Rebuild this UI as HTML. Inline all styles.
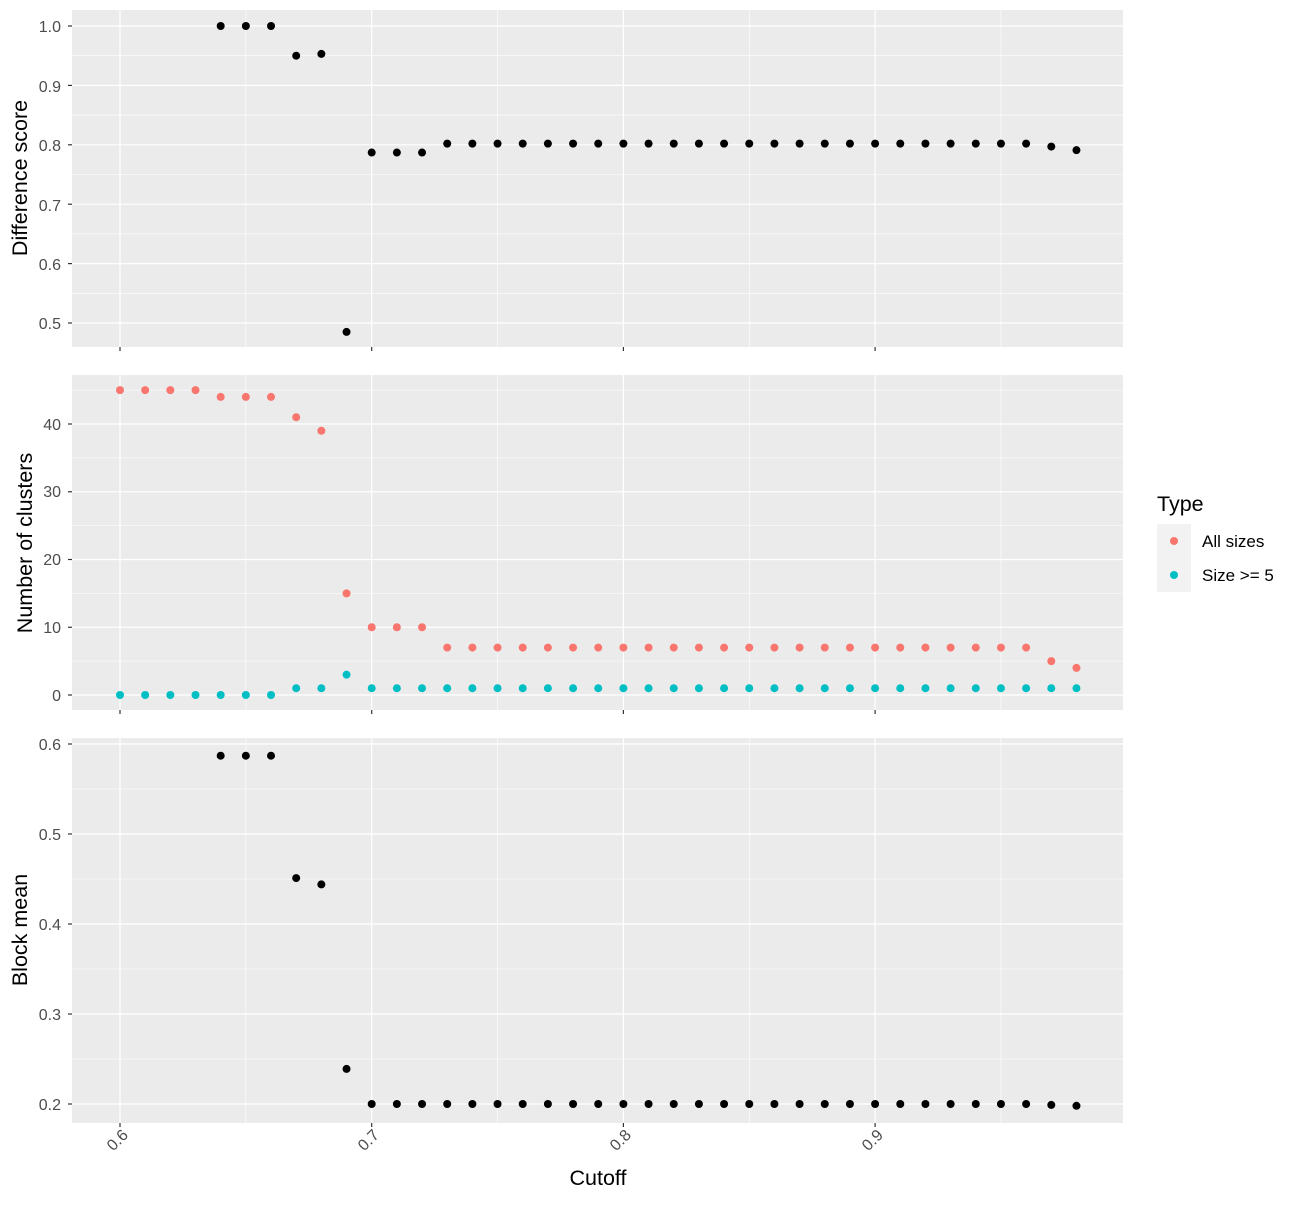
<!DOCTYPE html><html><head><style>body{margin:0;background:#fff}svg{font-family:"Liberation Sans",sans-serif}</style></head><body>
<svg id="s" width="1300" height="1200" xmlns="http://www.w3.org/2000/svg">
<g id="g"></g>
<g font-size="16" fill="#4d4d4d" text-anchor="end">
<text x="61" y="32">1.0</text><text x="61" y="92">0.9</text><text x="61" y="151">0.8</text><text x="61" y="211">0.7</text><text x="61" y="270">0.6</text><text x="61" y="329">0.5</text>
<text x="61" y="430">40</text><text x="61" y="497">30</text><text x="61" y="565">20</text><text x="61" y="633">10</text><text x="61" y="701">0</text>
<text x="61" y="750">0.6</text><text x="61" y="840">0.5</text><text x="61" y="930">0.4</text><text x="61" y="1020">0.3</text><text x="61" y="1110">0.2</text>
<text transform="translate(129,1136) rotate(-45)">0.6</text><text transform="translate(380,1136) rotate(-45)">0.7</text><text transform="translate(632,1136) rotate(-45)">0.8</text><text transform="translate(884,1136) rotate(-45)">0.9</text>
</g>
<g font-size="21.5" fill="#000" text-anchor="middle">
<text transform="translate(27,178) rotate(-90)">Difference score</text>
<text transform="translate(32,543) rotate(-90)">Number of clusters</text>
<text transform="translate(27,930) rotate(-90)">Block mean</text>
<text x="598" y="1185">Cutoff</text>
<text x="1157" y="511" text-anchor="start">Type</text>
</g>
<rect x="1157" y="524" width="34" height="68" fill="#f2f2f2"/>
<circle cx="1174" cy="541" r="4" fill="#F8766D"/><circle cx="1174" cy="575" r="4" fill="#00BFC4"/>
<text x="1202" y="547" font-size="17">All sizes</text><text x="1202" y="581" font-size="17">Size &gt;= 5</text>
</svg>
<script>
var g=document.getElementById('g'),h='';
function X(c){return 120+(c-0.6)*2517;}
function panel(t,b,maj,min){h+='<rect x="72" y="'+t+'" width="1051" height="'+(b-t)+'" fill="#ebebeb"/>';
min.forEach(function(y){h+='<line x1="72" x2="1123" y1="'+y+'" y2="'+y+'" stroke="#fff" stroke-width="0.6"/>'});
[0.65,0.75,0.85,0.95].forEach(function(c){h+='<line x1="'+X(c)+'" x2="'+X(c)+'" y1="'+t+'" y2="'+b+'" stroke="#fff" stroke-width="0.6"/>'});
maj.forEach(function(y){h+='<line x1="72" x2="1123" y1="'+y+'" y2="'+y+'" stroke="#fff" stroke-width="1.2"/><line x1="68" x2="72" y1="'+y+'" y2="'+y+'" stroke="#333" stroke-width="1.2"/>'});
[0.6,0.7,0.8,0.9].forEach(function(c){h+='<line x1="'+X(c)+'" x2="'+X(c)+'" y1="'+t+'" y2="'+b+'" stroke="#fff" stroke-width="1.2"/><line x1="'+X(c)+'" x2="'+X(c)+'" y1="'+b+'" y2="'+(b+4)+'" stroke="#333" stroke-width="1.2"/>'});}
function pt(c,y,col){h+='<circle cx="'+X(c)+'" cy="'+y+'" r="4" fill="'+col+'"/>';}
var y1=function(v){return 26+(1-v)*594};
panel(10,347,[1,.9,.8,.7,.6,.5].map(y1),[.95,.85,.75,.65,.55].map(y1));
var y2=function(v){return 695-v*6.775};
panel(375,710,[0,10,20,30,40].map(y2),[5,15,25,35,45].map(y2));
var y3=function(v){return 1104-(v-0.2)*900};
panel(738,1123,[.2,.3,.4,.5,.6].map(y3),[.25,.35,.45,.55].map(y3));
var d1={64:1,65:1,66:1,67:.95,68:.953,69:.485,70:.787,71:.787,72:.787,97:.797,98:.791};
for(var i=64;i<=98;i++){var v=d1[i]!==undefined?d1[i]:.802;pt(i/100,y1(v),'#000');}
var a=[45,45,45,45,44,44,44,41,39,15,10,10,10];
for(var i=60;i<=98;i++){var v=i<73?a[i-60]:(i==97?5:i==98?4:7);pt(i/100,y2(v),'#F8766D');
var s=i<=66?0:(i==69?3:1);pt(i/100,y2(s),'#00BFC4');}
var d3={64:.587,65:.587,66:.587,67:.451,68:.444,69:.239,97:.199,98:.198};
for(var i=64;i<=98;i++){var v=d3[i]!==undefined?d3[i]:.2;pt(i/100,y3(v),'#000');}
g.innerHTML=h;
</script>
</body></html>
